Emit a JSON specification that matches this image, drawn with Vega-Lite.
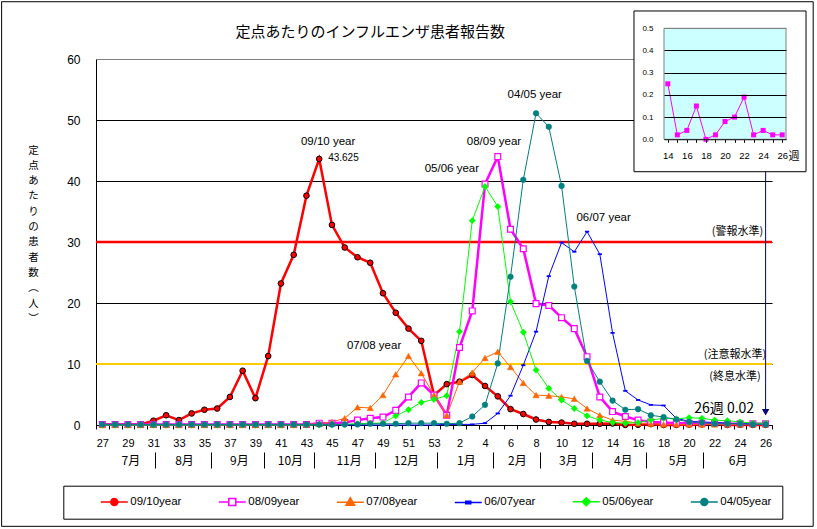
{
  "$schema": "https://vega.github.io/schema/vega-lite/v6.json",
  "width": 676,
  "height": 366,
  "autosize": {"type": "none"},
  "padding": {"left": 96, "top": 59, "right": 45, "bottom": 104},
  "background": "white",
  "config": {
    "view": {"stroke": null},
    "axis": {"labelFont": "Liberation Sans", "labelColor": "black", "domainColor": "black", "tickColor": "black", "gridColor": "black", "titleColor": "black", "labelOverlap": false, "labelFlush": false},
    "text": {"color": "black"}
  },
  "datasets": {
    "flu": [
      {"i":0,"w":27,"09/10year":0.1,"08/09year":0.1,"07/08year":0,"06/07year":0,"05/06year":0,"04/05year":0.1},
      {"i":1,"w":28,"09/10year":0.1,"08/09year":0.1,"07/08year":0,"06/07year":0,"05/06year":0,"04/05year":0.1},
      {"i":2,"w":29,"09/10year":0.1,"08/09year":0.1,"07/08year":0,"06/07year":0,"05/06year":0,"04/05year":0.1},
      {"i":3,"w":30,"09/10year":0.1,"08/09year":0.1,"07/08year":0,"06/07year":0,"05/06year":0,"04/05year":0.1},
      {"i":4,"w":31,"09/10year":0.7,"08/09year":0.1,"07/08year":0,"06/07year":0,"05/06year":0,"04/05year":0.1},
      {"i":5,"w":32,"09/10year":1.6,"08/09year":0.1,"07/08year":0,"06/07year":0,"05/06year":0,"04/05year":0.1},
      {"i":6,"w":33,"09/10year":0.8,"08/09year":0.1,"07/08year":0,"06/07year":0,"05/06year":0,"04/05year":0.1},
      {"i":7,"w":34,"09/10year":1.9,"08/09year":0.1,"07/08year":0,"06/07year":0,"05/06year":0,"04/05year":0.1},
      {"i":8,"w":35,"09/10year":2.5,"08/09year":0.1,"07/08year":0,"06/07year":0,"05/06year":0,"04/05year":0.1},
      {"i":9,"w":36,"09/10year":2.7,"08/09year":0.1,"07/08year":0,"06/07year":0,"05/06year":0,"04/05year":0.1},
      {"i":10,"w":37,"09/10year":4.6,"08/09year":0.1,"07/08year":0,"06/07year":0,"05/06year":0,"04/05year":0.1},
      {"i":11,"w":38,"09/10year":8.9,"08/09year":0.1,"07/08year":0,"06/07year":0,"05/06year":0,"04/05year":0.1},
      {"i":12,"w":39,"09/10year":4.4,"08/09year":0.1,"07/08year":0,"06/07year":0,"05/06year":0,"04/05year":0.1},
      {"i":13,"w":40,"09/10year":11.3,"08/09year":0.1,"07/08year":0,"06/07year":0,"05/06year":0,"04/05year":0.1},
      {"i":14,"w":41,"09/10year":23.2,"08/09year":0.1,"07/08year":0,"06/07year":0,"05/06year":0,"04/05year":0.1},
      {"i":15,"w":42,"09/10year":27.9,"08/09year":0.1,"07/08year":0,"06/07year":0,"05/06year":0,"04/05year":0.1},
      {"i":16,"w":43,"09/10year":37.6,"08/09year":0.1,"07/08year":0.1,"06/07year":0,"05/06year":0,"04/05year":0.1},
      {"i":17,"w":44,"09/10year":43.625,"08/09year":0.3,"07/08year":0.2,"06/07year":0,"05/06year":0,"04/05year":0.1},
      {"i":18,"w":45,"09/10year":32.8,"08/09year":0.3,"07/08year":0.5,"06/07year":0,"05/06year":0,"04/05year":0.1},
      {"i":19,"w":46,"09/10year":29.1,"08/09year":0.4,"07/08year":1.1,"06/07year":0,"05/06year":0.1,"04/05year":0.1},
      {"i":20,"w":47,"09/10year":27.5,"08/09year":0.8,"07/08year":2.9,"06/07year":0,"05/06year":0.2,"04/05year":0.1},
      {"i":21,"w":48,"09/10year":26.6,"08/09year":1.1,"07/08year":2.8,"06/07year":0,"05/06year":0.3,"04/05year":0.2},
      {"i":22,"w":49,"09/10year":21.6,"08/09year":1.3,"07/08year":4.9,"06/07year":0,"05/06year":0.3,"04/05year":0.2},
      {"i":23,"w":50,"09/10year":18.4,"08/09year":2.4,"07/08year":8.3,"06/07year":0,"05/06year":1.5,"04/05year":0.2},
      {"i":24,"w":51,"09/10year":15.8,"08/09year":4.6,"07/08year":11.3,"06/07year":0,"05/06year":2.5,"04/05year":0.3},
      {"i":25,"w":52,"09/10year":13.8,"08/09year":6.9,"07/08year":8.5,"06/07year":0,"05/06year":3.7,"04/05year":0.3},
      {"i":26,"w":53,"09/10year":4.9,"08/09year":4.9,"07/08year":4.9,"06/07year":0,"05/06year":4.2,"04/05year":0.3},
      {"i":27,"w":1,"09/10year":6.7,"08/09year":1.6,"07/08year":1.6,"06/07year":0.1,"05/06year":4.8,"04/05year":0.2},
      {"i":28,"w":2,"09/10year":7.1,"08/09year":12.7,"07/08year":7.1,"06/07year":0.1,"05/06year":15.3,"04/05year":0.3},
      {"i":29,"w":3,"09/10year":8.2,"08/09year":18.7,"07/08year":8.6,"06/07year":0.1,"05/06year":33.5,"04/05year":1.4},
      {"i":30,"w":4,"09/10year":6.4,"08/09year":39.5,"07/08year":11.0,"06/07year":0.3,"05/06year":39.1,"04/05year":3.3},
      {"i":31,"w":5,"09/10year":4.7,"08/09year":44.0,"07/08year":12.0,"06/07year":1.9,"05/06year":35.8,"04/05year":10.1},
      {"i":32,"w":6,"09/10year":2.6,"08/09year":32.1,"07/08year":9.5,"06/07year":4.8,"05/06year":20.2,"04/05year":24.3},
      {"i":33,"w":7,"09/10year":1.8,"08/09year":28.9,"07/08year":6.9,"06/07year":9.8,"05/06year":15.2,"04/05year":40.2},
      {"i":34,"w":8,"09/10year":0.9,"08/09year":19.9,"07/08year":4.9,"06/07year":15.3,"05/06year":9.0,"04/05year":51.1},
      {"i":35,"w":9,"09/10year":0.5,"08/09year":19.6,"07/08year":4.8,"06/07year":24.4,"05/06year":6.0,"04/05year":48.9},
      {"i":36,"w":10,"09/10year":0.4,"08/09year":17.6,"07/08year":4.6,"06/07year":29.9,"05/06year":4.1,"04/05year":39.2},
      {"i":37,"w":11,"09/10year":0.2,"08/09year":15.8,"07/08year":4.3,"06/07year":28.4,"05/06year":2.7,"04/05year":22.7},
      {"i":38,"w":12,"09/10year":0.2,"08/09year":11.2,"07/08year":2.7,"06/07year":31.7,"05/06year":1.5,"04/05year":10.5},
      {"i":39,"w":13,"09/10year":0.2,"08/09year":4.6,"07/08year":1.6,"06/07year":28.0,"05/06year":0.8,"04/05year":7.1},
      {"i":40,"w":14,"09/10year":0.25,"08/09year":2.2,"07/08year":0.8,"06/07year":15.1,"05/06year":0.4,"04/05year":4.0},
      {"i":41,"w":15,"09/10year":0.02,"08/09year":1.4,"07/08year":0.6,"06/07year":5.6,"05/06year":0.3,"04/05year":2.5},
      {"i":42,"w":16,"09/10year":0.04,"08/09year":0.8,"07/08year":0.3,"06/07year":4.1,"05/06year":0.4,"04/05year":2.6},
      {"i":43,"w":17,"09/10year":0.15,"08/09year":0.5,"07/08year":0.2,"06/07year":3.3,"05/06year":0.8,"04/05year":1.6},
      {"i":44,"w":18,"09/10year":0,"08/09year":0.4,"07/08year":0.1,"06/07year":3.2,"05/06year":1.1,"04/05year":1.3},
      {"i":45,"w":19,"09/10year":0.02,"08/09year":0.3,"07/08year":0.1,"06/07year":1.1,"05/06year":1.0,"04/05year":0.9},
      {"i":46,"w":20,"09/10year":0.08,"08/09year":0.3,"07/08year":0.1,"06/07year":0.6,"05/06year":1.2,"04/05year":0.5},
      {"i":47,"w":21,"09/10year":0.1,"08/09year":0.3,"07/08year":0.1,"06/07year":0.5,"05/06year":1.1,"04/05year":0.4},
      {"i":48,"w":22,"09/10year":0.19,"08/09year":0.3,"07/08year":0.1,"06/07year":0.4,"05/06year":0.8,"04/05year":0.2},
      {"i":49,"w":23,"09/10year":0.02,"08/09year":0.2,"07/08year":0.1,"06/07year":0.3,"05/06year":0.7,"04/05year":0.2},
      {"i":50,"w":24,"09/10year":0.04,"08/09year":0.2,"07/08year":0.1,"06/07year":0.2,"05/06year":0.5,"04/05year":0.2},
      {"i":51,"w":25,"09/10year":0.02,"08/09year":0.2,"07/08year":0.1,"06/07year":0.2,"05/06year":0.3,"04/05year":0.1},
      {"i":52,"w":26,"09/10year":0.02,"08/09year":0.2,"07/08year":0.1,"06/07year":0.1,"05/06year":0.3,"04/05year":0.1}
    ]
  },
  "layer": [
    {
      "data": {"values": [{}]},
      "mark": {"type": "rect", "fill": "transparent", "stroke": "black", "strokeWidth": 1},
      "encoding": {
        "x": {"datum": -7.9, "type": "quantitative", "scale": {"domain": [-0.5, 52.5], "nice": false, "zero": false}, "axis": null},
        "x2": {"datum": 55.73},
        "y": {"datum": 69.39, "type": "quantitative", "scale": {"domain": [0, 60], "nice": false, "zero": false}, "axis": null},
        "y2": {"datum": -16.61}
      }
    },
    {
      "data": {"values": [{}]},
      "mark": {"type": "text", "text": "定点あたりのインフルエンザ患者報告数", "font": "Noto Sans CJK JP", "fontSize": 15, "align": "center", "baseline": "middle"},
      "encoding": {
        "x": {"datum": 21.0, "type": "quantitative", "scale": {"domain": [-0.5, 52.5], "nice": false, "zero": false}, "axis": null},
        "y": {"datum": 64.5, "type": "quantitative", "scale": {"domain": [0, 60], "nice": false, "zero": false}, "axis": null}
      }
    },
    {
      "data": {"values": [{}]},
      "mark": {"type": "rule", "color": "#FF0000", "strokeWidth": 2.5},
      "encoding": {"y": {"datum": 30, "type": "quantitative", "scale": {"domain": [0, 60], "nice": false, "zero": false}, "axis": null}}
    },
    {
      "data": {"values": [{}]},
      "mark": {"type": "rule", "color": "#FFCC00", "strokeWidth": 2},
      "encoding": {"y": {"datum": 10, "type": "quantitative", "scale": {"domain": [0, 60], "nice": false, "zero": false}, "axis": null}}
    },
    {
      "data": {"name": "flu"},
      "mark": {"type": "line", "color": "#FF0000", "strokeWidth": 2.5},
      "encoding": {
        "x": {"field": "i", "type": "quantitative", "scale": {"domain": [-0.5, 52.5], "nice": false, "zero": false},
          "axis": {"orient": "bottom", "values": [0,2,4,6,8,10,12,14,16,18,20,22,24,26,28,30,32,34,36,38,40,42,44,46,48,50,52], "labelExpr": "datum.value <= 26 ? datum.value + 27 : datum.value - 26", "ticks": false, "domain": true, "grid": false, "labelPadding": 12, "labelFontSize": 11, "title": null}},
        "y": {"field": "09/10year", "type": "quantitative", "scale": {"domain": [0, 60], "nice": false, "zero": false},
          "axis": {"orient": "left", "values": [0,10,20,30,40,50,60], "grid": true, "gridColor": {"condition": {"test": "datum.value === 60", "value": "#808080"}, "value": "black"}, "ticks": false, "domain": true, "labelPadding": 16, "labelFontSize": 12,
            "title": ["定","点","あ","た","り","の","患","者","数","︵","人","︶"], "titleAngle": 0, "titleX": -63, "titleY": 86, "titleAlign": "center", "titleBaseline": "top", "titleLineHeight": 15.3, "titleFont": "Noto Sans CJK JP", "titleFontSize": 10.5, "titleFontWeight": "normal"}}
      }
    },
    {
      "data": {"name": "flu"},
      "mark": {"type": "line", "color": "#FF00FF", "strokeWidth": 2.5},
      "encoding": {
        "x": {"field": "i", "type": "quantitative", "scale": {"domain": [-0.5, 52.5], "nice": false, "zero": false}, "axis": null},
        "y": {"field": "08/09year", "type": "quantitative", "scale": {"domain": [0, 60], "nice": false, "zero": false}, "axis": null}
      }
    },
    {
      "data": {"name": "flu"},
      "mark": {"type": "line", "color": "#FF6600", "strokeWidth": 1},
      "encoding": {
        "x": {"field": "i", "type": "quantitative", "scale": {"domain": [-0.5, 52.5], "nice": false, "zero": false}, "axis": null},
        "y": {"field": "07/08year", "type": "quantitative", "scale": {"domain": [0, 60], "nice": false, "zero": false}, "axis": null}
      }
    },
    {
      "data": {"name": "flu"},
      "mark": {"type": "line", "color": "#0000FF", "strokeWidth": 1},
      "encoding": {
        "x": {"field": "i", "type": "quantitative", "scale": {"domain": [-0.5, 52.5], "nice": false, "zero": false}, "axis": null},
        "y": {"field": "06/07year", "type": "quantitative", "scale": {"domain": [0, 60], "nice": false, "zero": false}, "axis": null}
      }
    },
    {
      "data": {"name": "flu"},
      "mark": {"type": "line", "color": "#00FF00", "strokeWidth": 1},
      "encoding": {
        "x": {"field": "i", "type": "quantitative", "scale": {"domain": [-0.5, 52.5], "nice": false, "zero": false}, "axis": null},
        "y": {"field": "05/06year", "type": "quantitative", "scale": {"domain": [0, 60], "nice": false, "zero": false}, "axis": null}
      }
    },
    {
      "data": {"name": "flu"},
      "mark": {"type": "line", "color": "#008080", "strokeWidth": 1},
      "encoding": {
        "x": {"field": "i", "type": "quantitative", "scale": {"domain": [-0.5, 52.5], "nice": false, "zero": false}, "axis": null},
        "y": {"field": "04/05year", "type": "quantitative", "scale": {"domain": [0, 60], "nice": false, "zero": false}, "axis": null}
      }
    },
    {
      "data": {"name": "flu"},
      "mark": {"type": "circle", "size": 32, "fill": "#FF0000", "stroke": "#000000", "strokeWidth": 1, "opacity": 1},
      "encoding": {
        "x": {"field": "i", "type": "quantitative", "scale": {"domain": [-0.5, 52.5], "nice": false, "zero": false},
          "axis": {"orient": "bottom", "values": [-0.5,0.5,1.5,2.5,3.5,4.5,5.5,6.5,7.5,8.5,9.5,10.5,11.5,12.5,13.5,14.5,15.5,16.5,17.5,18.5,19.5,20.5,21.5,22.5,23.5,24.5,25.5,26.5,27.5,28.5,29.5,30.5,31.5,32.5,33.5,34.5,35.5,36.5,37.5,38.5,39.5,40.5,41.5,42.5,43.5,44.5,45.5,46.5,47.5,48.5,49.5,50.5,51.5,52.5], "labels": false, "ticks": true, "tickSize": 4, "domain": false, "grid": false, "title": null}},
        "y": {"field": "09/10year", "type": "quantitative", "scale": {"domain": [0, 60], "nice": false, "zero": false}, "axis": null}
      }
    },
    {
      "data": {"name": "flu"},
      "mark": {"type": "square", "size": 34, "fill": "#FFFFFF", "stroke": "#FF00FF", "strokeWidth": 1.2, "opacity": 1},
      "encoding": {
        "x": {"field": "i", "type": "quantitative", "scale": {"domain": [-0.5, 52.5], "nice": false, "zero": false}, "axis": null},
        "y": {"field": "08/09year", "type": "quantitative", "scale": {"domain": [0, 60], "nice": false, "zero": false}, "axis": null}
      }
    },
    {
      "data": {"name": "flu"},
      "mark": {"type": "point", "shape": "triangle-up", "filled": true, "size": 40, "fill": "#FF6600", "stroke": "#FF6600", "strokeWidth": 0.5, "opacity": 1},
      "encoding": {
        "x": {"field": "i", "type": "quantitative", "scale": {"domain": [-0.5, 52.5], "nice": false, "zero": false}, "axis": null},
        "y": {"field": "07/08year", "type": "quantitative", "scale": {"domain": [0, 60], "nice": false, "zero": false}, "axis": null}
      }
    },
    {
      "data": {"name": "flu"},
      "mark": {"type": "point", "shape": "M-0.7,-0.3H0.7V0.3H-0.7Z", "filled": true, "size": 36, "fill": "#0000FF", "strokeWidth": 0, "opacity": 1},
      "encoding": {
        "x": {"field": "i", "type": "quantitative", "scale": {"domain": [-0.5, 52.5], "nice": false, "zero": false}, "axis": null},
        "y": {"field": "06/07year", "type": "quantitative", "scale": {"domain": [0, 60], "nice": false, "zero": false}, "axis": null}
      }
    },
    {
      "data": {"name": "flu"},
      "mark": {"type": "point", "shape": "diamond", "filled": true, "size": 40, "fill": "#00FF00", "stroke": "#00FF00", "strokeWidth": 0.5, "opacity": 1},
      "encoding": {
        "x": {"field": "i", "type": "quantitative", "scale": {"domain": [-0.5, 52.5], "nice": false, "zero": false}, "axis": null},
        "y": {"field": "05/06year", "type": "quantitative", "scale": {"domain": [0, 60], "nice": false, "zero": false}, "axis": null}
      }
    },
    {
      "data": {"name": "flu"},
      "mark": {"type": "circle", "size": 32, "fill": "#008080", "stroke": "#008080", "strokeWidth": 0.5, "opacity": 1},
      "encoding": {
        "x": {"field": "i", "type": "quantitative", "scale": {"domain": [-0.5, 52.5], "nice": false, "zero": false}, "axis": null},
        "y": {"field": "04/05year", "type": "quantitative", "scale": {"domain": [0, 60], "nice": false, "zero": false}, "axis": null}
      }
    },
    {
      "data": {"name": "flu"},
      "transform": [
        {"fold": ["09/10year", "08/09year", "07/08year", "06/07year", "05/06year", "04/05year"], "as": ["s", "v"]}
      ],
      "mark": {"type": "point", "filled": true, "opacity": 0, "size": 10},
      "encoding": {
        "x": {"field": "i", "type": "quantitative", "scale": {"domain": [-0.5, 52.5], "nice": false, "zero": false}, "axis": null},
        "y": {"field": "v", "type": "quantitative", "scale": {"domain": [0, 60], "nice": false, "zero": false}, "axis": null},
        "shape": {"field": "s", "type": "nominal",
          "scale": {"domain": ["09/10year", "08/09year", "07/08year", "06/07year", "05/06year", "04/05year"], "range": ["M-2.7,0H2.7M0.7,0A0.7,0.7,0,1,1,-0.7,0A0.7,0.7,0,1,1,0.7,0Z", "M-2.7,0H-0.7M0.7,0H2.7M-0.7,-0.7H0.7V0.7H-0.7Z", "M-2.7,0H2.7M0,-0.9L0.85,0.6H-0.85Z", "M-2.7,0H2.7M-0.5,-0.25H0.5V0.25H-0.5Z", "M-2.7,0H2.7M0,-0.8L0.8,0L0,0.8L-0.8,0Z", "M-2.7,0H2.7M0.7,0A0.7,0.7,0,1,1,-0.7,0A0.7,0.7,0,1,1,0.7,0Z"]},
          "legend": {"title": " ", "titleOrient": "left", "titleFontSize": 1, "titlePadding": 35, "orient": "none", "legendX": -32.7, "legendY": 426.7, "direction": "horizontal", "padding": 10, "strokeColor": "black", "fillColor": "white", "symbolSize": 100, "symbolStrokeWidth": 1.5, "symbolOpacity": 1, "labelOffset": 10, "columnPadding": 33, "labelFont": "Liberation Sans", "labelFontSize": 11.5, "labelColor": "black", "labelExpr": "datum.label === '04/05year' ? datum.label + '      ' : datum.label"}},
        "fill": {"field": "s", "type": "nominal",
          "scale": {"domain": ["09/10year", "08/09year", "07/08year", "06/07year", "05/06year", "04/05year"], "range": ["#FF0000", "#FFFFFF", "#FF6600", "#0000FF", "#00FF00", "#008080"]},
          "legend": {"title": " ", "titleOrient": "left", "titleFontSize": 1, "titlePadding": 35, "orient": "none", "legendX": -32.7, "legendY": 426.7, "direction": "horizontal", "padding": 10, "strokeColor": "black", "fillColor": "white", "symbolSize": 100, "symbolStrokeWidth": 1.5, "symbolOpacity": 1, "labelOffset": 10, "columnPadding": 33, "labelFont": "Liberation Sans", "labelFontSize": 11.5, "labelColor": "black", "labelExpr": "datum.label === '04/05year' ? datum.label + '      ' : datum.label"}},
        "stroke": {"field": "s", "type": "nominal",
          "scale": {"domain": ["09/10year", "08/09year", "07/08year", "06/07year", "05/06year", "04/05year"], "range": ["#FF0000", "#FF00FF", "#FF6600", "#0000FF", "#00FF00", "#008080"]},
          "legend": {"title": " ", "titleOrient": "left", "titleFontSize": 1, "titlePadding": 35, "orient": "none", "legendX": -32.7, "legendY": 426.7, "direction": "horizontal", "padding": 10, "strokeColor": "black", "fillColor": "white", "symbolSize": 100, "symbolStrokeWidth": 1.5, "symbolOpacity": 1, "labelOffset": 10, "columnPadding": 33, "labelFont": "Liberation Sans", "labelFontSize": 11.5, "labelColor": "black", "labelExpr": "datum.label === '04/05year' ? datum.label + '      ' : datum.label"}}
      }
    },
    {
      "data": {"values": [{}]},
      "mark": {"type": "text", "text": "09/10 year", "font": "Liberation Sans", "fontSize": 11.5, "align": "center", "baseline": "middle"},
      "encoding": {"x": {"datum": 17.7, "type": "quantitative", "scale": {"domain": [-0.5, 52.5], "nice": false, "zero": false}, "axis": null}, "y": {"datum": 46.4, "type": "quantitative", "scale": {"domain": [0, 60], "nice": false, "zero": false}, "axis": null}}
    },
    {
      "data": {"values": [{}]},
      "mark": {"type": "text", "text": "43.625", "font": "Liberation Sans", "fontSize": 10, "align": "left", "baseline": "middle"},
      "encoding": {"x": {"datum": 17.7, "type": "quantitative", "scale": {"domain": [-0.5, 52.5], "nice": false, "zero": false}, "axis": null}, "y": {"datum": 43.7, "type": "quantitative", "scale": {"domain": [0, 60], "nice": false, "zero": false}, "axis": null}}
    },
    {
      "data": {"values": [{}]},
      "mark": {"type": "text", "text": "08/09 year", "font": "Liberation Sans", "fontSize": 11.5, "align": "center", "baseline": "middle"},
      "encoding": {"x": {"datum": 30.7, "type": "quantitative", "scale": {"domain": [-0.5, 52.5], "nice": false, "zero": false}, "axis": null}, "y": {"datum": 46.4, "type": "quantitative", "scale": {"domain": [0, 60], "nice": false, "zero": false}, "axis": null}}
    },
    {
      "data": {"values": [{}]},
      "mark": {"type": "text", "text": "05/06 year", "font": "Liberation Sans", "fontSize": 11.5, "align": "center", "baseline": "middle"},
      "encoding": {"x": {"datum": 27.4, "type": "quantitative", "scale": {"domain": [-0.5, 52.5], "nice": false, "zero": false}, "axis": null}, "y": {"datum": 41.9, "type": "quantitative", "scale": {"domain": [0, 60], "nice": false, "zero": false}, "axis": null}}
    },
    {
      "data": {"values": [{}]},
      "mark": {"type": "text", "text": "04/05 year", "font": "Liberation Sans", "fontSize": 11.5, "align": "center", "baseline": "middle"},
      "encoding": {"x": {"datum": 33.9, "type": "quantitative", "scale": {"domain": [-0.5, 52.5], "nice": false, "zero": false}, "axis": null}, "y": {"datum": 54.1, "type": "quantitative", "scale": {"domain": [0, 60], "nice": false, "zero": false}, "axis": null}}
    },
    {
      "data": {"values": [{}]},
      "mark": {"type": "text", "text": "06/07 year", "font": "Liberation Sans", "fontSize": 11.5, "align": "center", "baseline": "middle"},
      "encoding": {"x": {"datum": 39.3, "type": "quantitative", "scale": {"domain": [-0.5, 52.5], "nice": false, "zero": false}, "axis": null}, "y": {"datum": 33.9, "type": "quantitative", "scale": {"domain": [0, 60], "nice": false, "zero": false}, "axis": null}}
    },
    {
      "data": {"values": [{}]},
      "mark": {"type": "text", "text": "07/08 year", "font": "Liberation Sans", "fontSize": 11.5, "align": "center", "baseline": "middle"},
      "encoding": {"x": {"datum": 21.3, "type": "quantitative", "scale": {"domain": [-0.5, 52.5], "nice": false, "zero": false}, "axis": null}, "y": {"datum": 12.9, "type": "quantitative", "scale": {"domain": [0, 60], "nice": false, "zero": false}, "axis": null}}
    },
    {
      "data": {"values": [{}]},
      "mark": {"type": "text", "text": "(警報水準)", "font": "Noto Sans CJK JP", "fontSize": 11, "align": "center", "baseline": "middle"},
      "encoding": {"x": {"datum": 49.8, "type": "quantitative", "scale": {"domain": [-0.5, 52.5], "nice": false, "zero": false}, "axis": null}, "y": {"datum": 31.6, "type": "quantitative", "scale": {"domain": [0, 60], "nice": false, "zero": false}, "axis": null}}
    },
    {
      "data": {"values": [{}]},
      "mark": {"type": "text", "text": "(注意報水準)", "font": "Noto Sans CJK JP", "fontSize": 11, "align": "center", "baseline": "middle"},
      "encoding": {"x": {"datum": 49.6, "type": "quantitative", "scale": {"domain": [-0.5, 52.5], "nice": false, "zero": false}, "axis": null}, "y": {"datum": 11.4, "type": "quantitative", "scale": {"domain": [0, 60], "nice": false, "zero": false}, "axis": null}}
    },
    {
      "data": {"values": [{}]},
      "mark": {"type": "text", "text": "(終息水準)", "font": "Noto Sans CJK JP", "fontSize": 11, "align": "center", "baseline": "middle"},
      "encoding": {"x": {"datum": 49.6, "type": "quantitative", "scale": {"domain": [-0.5, 52.5], "nice": false, "zero": false}, "axis": null}, "y": {"datum": 7.8, "type": "quantitative", "scale": {"domain": [0, 60], "nice": false, "zero": false}, "axis": null}}
    },
    {
      "data": {"values": [{}]},
      "mark": {"type": "text", "text": "26週 0.02", "font": "Noto Sans CJK JP", "fontSize": 14, "align": "right", "baseline": "middle"},
      "encoding": {"x": {"datum": 51.1, "type": "quantitative", "scale": {"domain": [-0.5, 52.5], "nice": false, "zero": false}, "axis": null}, "y": {"datum": 2.6, "type": "quantitative", "scale": {"domain": [0, 60], "nice": false, "zero": false}, "axis": null}}
    },
    {
      "data": {"values": [{}]},
      "mark": {"type": "rule", "color": "#000080", "strokeWidth": 1},
      "encoding": {
        "x": {"datum": 52, "type": "quantitative", "scale": {"domain": [-0.5, 52.5], "nice": false, "zero": false},
          "axis": {"orient": "bottom", "values": [2.2, 6.4, 10.7, 14.7, 19.3, 23.8, 28.5, 32.5, 36.5, 40.8, 45.1, 49.8], "labelExpr": "['7月','8月','9月','10月','11月','12月','1月','2月','3月','4月','5月','6月'][indexof([2.2, 6.4, 10.7, 14.7, 19.3, 23.8, 28.5, 32.5, 36.5, 40.8, 45.1, 49.8], datum.value)]", "ticks": false, "domain": false, "grid": false, "labelPadding": 30, "labelFont": "Noto Sans CJK JP", "labelFontSize": 12, "title": null}},
        "y": {"datum": 41.5, "type": "quantitative", "scale": {"domain": [0, 60], "nice": false, "zero": false}, "axis": null},
        "y2": {"datum": 2.3}
      }
    },
    {
      "data": {"values": [{}]},
      "mark": {"type": "point", "shape": "triangle-down", "filled": true, "color": "#000080", "size": 55, "opacity": 1},
      "encoding": {
        "x": {"datum": 52, "type": "quantitative", "scale": {"domain": [-0.5, 52.5], "nice": false, "zero": false},
          "axis": {"orient": "bottom", "values": [4.1, 8.5, 12.7, 16.6, 21.4, 26.2, 30.6, 34.3, 38.4, 42.6, 47.1], "labels": false, "ticks": true, "tickSize": 16, "offset": 27, "domain": false, "grid": false, "title": null}},
        "y": {"datum": 2.1, "type": "quantitative", "scale": {"domain": [0, 60], "nice": false, "zero": false}, "axis": null}
      }
    },
    {
      "data": {"values": [{}]},
      "mark": {"type": "rect", "fill": "white", "stroke": "black", "strokeWidth": 1},
      "encoding": {
        "x": {"datum": 10.45, "type": "quantitative", "scale": {"domain": [13.6, 26.4], "range": [568, 690], "nice": false, "zero": false}, "axis": null},
        "x2": {"datum": 28.5},
        "y": {"datum": 0.578, "type": "quantitative", "scale": {"domain": [0, 0.5], "range": [80.3, -30.7], "nice": false, "zero": false}, "axis": null},
        "y2": {"datum": -0.146}
      }
    },
    {
      "data": {"values": [{}]},
      "mark": {"type": "rect", "fill": "#CCFFFF", "stroke": "#808080", "strokeWidth": 1},
      "encoding": {
        "x": {"datum": 13.6, "type": "quantitative", "scale": {"domain": [13.6, 26.4], "range": [568, 690], "nice": false, "zero": false}, "axis": null},
        "x2": {"datum": 26.4},
        "y": {"datum": 0, "type": "quantitative", "scale": {"domain": [0, 0.5], "range": [80.3, -30.7], "nice": false, "zero": false}, "axis": null},
        "y2": {"datum": 0.5}
      }
    },
    {
      "data": {"name": "flu"},
      "transform": [{"filter": "datum.i >= 40"}],
      "mark": {"type": "line", "color": "#FF00FF", "strokeWidth": 1},
      "encoding": {
        "x": {"field": "w", "type": "quantitative", "scale": {"domain": [13.6, 26.4], "range": [568, 690], "nice": false, "zero": false},
          "axis": {"orient": "bottom", "offset": -285.7, "zindex": 1, "values": [14,15,16,17,18,19,20,21,22,23,24,25,26], "labelExpr": "datum.value % 2 === 0 ? datum.label : ''", "labelFontSize": 9.5, "tickSize": 3, "labelPadding": 8, "domain": true, "domainColor": "#404040", "grid": false, "title": null}},
        "y": {"field": "09/10year", "type": "quantitative", "scale": {"domain": [0, 0.5], "range": [80.3, -30.7], "nice": false, "zero": false},
          "axis": {"orient": "left", "offset": -568, "zindex": 1, "values": [0, 0.1, 0.2, 0.3, 0.4, 0.5], "format": ".1f", "labelFontSize": 8, "ticks": false, "labelPadding": 11, "domain": false, "grid": true, "gridColor": {"condition": {"test": "datum.value === 0.5", "value": "#808080"}, "value": "black"}, "title": null}}
      }
    },
    {
      "data": {"name": "flu"},
      "transform": [{"filter": "datum.i >= 40"}],
      "mark": {"type": "square", "color": "#FF00FF", "size": 25, "opacity": 1},
      "encoding": {
        "x": {"field": "w", "type": "quantitative", "scale": {"domain": [13.6, 26.4], "range": [568, 690], "nice": false, "zero": false}, "axis": null},
        "y": {"field": "09/10year", "type": "quantitative", "scale": {"domain": [0, 0.5], "range": [80.3, -30.7], "nice": false, "zero": false}, "axis": null}
      }
    },
    {
      "data": {"values": [{}]},
      "mark": {"type": "text", "text": "週", "font": "Noto Sans CJK JP", "fontSize": 11, "align": "center", "baseline": "middle"},
      "encoding": {
        "x": {"datum": 27.25, "type": "quantitative", "scale": {"domain": [13.6, 26.4], "range": [568, 690], "nice": false, "zero": false}, "axis": null},
        "y": {"datum": -0.08, "type": "quantitative", "scale": {"domain": [0, 0.5], "range": [80.3, -30.7], "nice": false, "zero": false}, "axis": null}
      }
    }
  ],
  "resolve": {"scale": {"x": "independent", "y": "independent"}, "axis": {"x": "independent", "y": "independent"}}
}
